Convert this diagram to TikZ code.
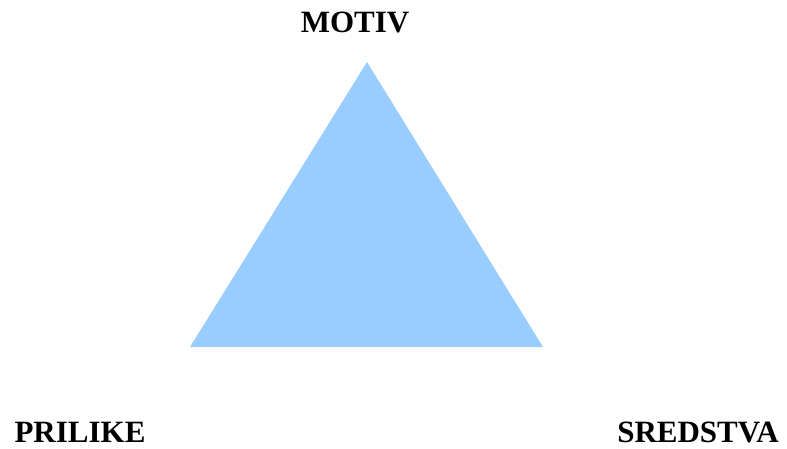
\documentclass[tikz,border=0pt]{standalone}
\usepackage{fontspec}
\setmainfont{Liberation Serif}
\definecolor{triblue}{HTML}{99CCFF}
\begin{document}
\begin{tikzpicture}[x=1pt,y=-1pt,
  lbl/.style={inner sep=0pt,anchor=base,font=\fontsize{31}{36}\selectfont\bfseries}]
\useasboundingbox (0,0) rectangle (787,448);
\coordinate (apex) at (367,62);
\coordinate (bl) at (190,347);
\coordinate (br) at (543,347);
\fill[triblue] (apex) -- (bl) -- (br) -- cycle;
\node[lbl] (motiv) at (355,32) {MOTIV};
\node[lbl] (prilike) at (80,442) {PRILIKE};
\node[lbl] (sredstva) at (698,442) {SREDSTVA};
\end{tikzpicture}
\end{document}
